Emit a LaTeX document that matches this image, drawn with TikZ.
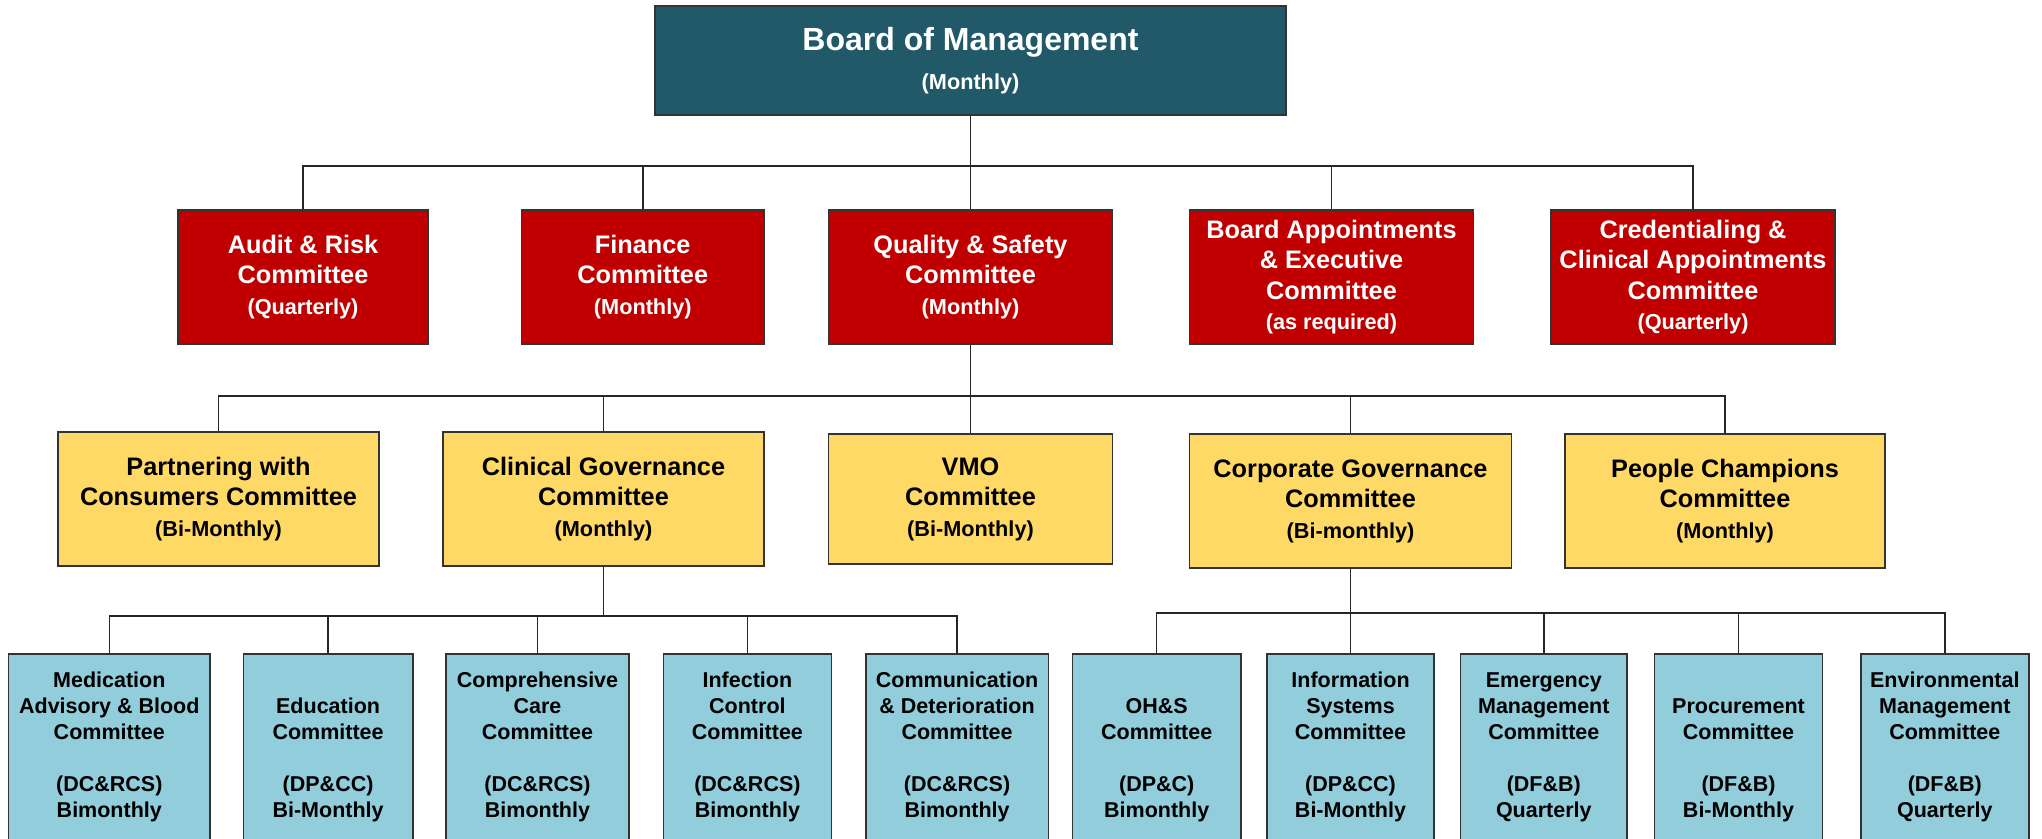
\documentclass[tikz,border=0pt]{standalone}
\usepackage{fontspec}
\setmainfont{Liberation Sans}
\definecolor{boardteal}{HTML}{215968}
\definecolor{cmred}{HTML}{C00000}
\definecolor{cmyellow}{HTML}{FFD966}
\definecolor{cmblue}{HTML}{92CDDC}
\newcommand\freqtxt[1]{{\fontsize{21.7}{30.5}\selectfont #1}}
\tikzset{
  conn/.style={draw=black!85, line width=1.5pt},
  orgbox/.style={draw=black!80, line width=1.5pt, rectangle, inner sep=0pt, align=center},
  boardbox/.style={orgbox, fill=boardteal, text=white, font=\bfseries\fontsize{32}{39}\selectfont},
  redbox/.style={orgbox, fill=cmred, text=white, minimum height=134pt, font=\bfseries\fontsize{25.3}{30.5}\selectfont},
  yellowbox/.style={orgbox, fill=cmyellow, text=black, font=\bfseries\fontsize{25.3}{30.5}\selectfont},
  bluebox/.style={orgbox, fill=cmblue, minimum height=246pt},
  bluetxt/.style={inner sep=0pt, align=center, text=black, font=\bfseries\fontsize{21.5}{26}\selectfont, anchor=south}
}
\begin{document}
\begin{tikzpicture}[x=1pt,y=-1pt]
\useasboundingbox (0,0) rectangle (2042,838);
\clip (0,0) rectangle (2042,838);

% Board
\node[boardbox, minimum width=631pt, minimum height=109pt] (board) at (970.5,60.5) {Board of Management\\\freqtxt{(Monthly)}};

% Level 1
\node[redbox, minimum width=250pt] (audit) at (303,277) {Audit \& Risk\\Committee\\\freqtxt{(Quarterly)}};
\node[redbox, minimum width=242.5pt] (finance) at (642.75,277) {Finance\\Committee\\\freqtxt{(Monthly)}};
\node[redbox, minimum width=284pt] (quality) at (970.5,277) {Quality \& Safety\\Committee\\\freqtxt{(Monthly)}};
\node[redbox, minimum width=284pt] (boardapp) at (1331.5,277) {Board Appointments\\\& Executive\\Committee\\\freqtxt{(as required)}};
\node[redbox, minimum width=284pt] (cred) at (1693,277) {Credentialing \&\\Clinical Appointments\\Committee\\\freqtxt{(Quarterly)}};

% Level 2
\node[yellowbox, minimum width=321pt, minimum height=134pt] (partner) at (218.5,499) {Partnering with\\Consumers Committee\\\freqtxt{(Bi-Monthly)}};
\node[yellowbox, minimum width=321pt, minimum height=134pt] (clinical) at (603.5,499) {Clinical Governance\\Committee\\\freqtxt{(Monthly)}};
\node[yellowbox, minimum width=284pt, minimum height=130pt] (vmo) at (970.5,499) {VMO\\Committee\\\freqtxt{(Bi-Monthly)}};
\node[yellowbox, minimum width=322pt, minimum height=134pt] (corporate) at (1350.5,501) {Corporate Governance\\Committee\\\freqtxt{(Bi-monthly)}};
\node[yellowbox, minimum width=320pt, minimum height=134pt] (people) at (1725,501) {People Champions\\Committee\\\freqtxt{(Monthly)}};

% Level 3 boxes
\node[bluebox, minimum width=201.5pt] (med) at (109.3,777) {};
\node[bluebox, minimum width=169.3pt] (edu) at (328.1,777) {};
\node[bluebox, minimum width=183pt] (comp) at (537.5,777) {};
\node[bluebox, minimum width=168pt] (inf) at (747.4,777) {};
\node[bluebox, minimum width=182.3pt] (comm) at (957.1,777) {};
\node[bluebox, minimum width=168.6pt] (ohs) at (1156.7,777) {};
\node[bluebox, minimum width=167.4pt] (info) at (1350.5,777) {};
\node[bluebox, minimum width=166.5pt] (emer) at (1543.8,777) {};
\node[bluebox, minimum width=168pt] (proc) at (1738.5,777) {};
\node[bluebox, minimum width=168pt] (env) at (1944.8,777) {};

\coordinate (tb) at (0,822.5);
\node[bluetxt] (medT) at (med |- tb) {Medication\\Advisory \& Blood\\Committee\\ \\(DC\&RCS)\\Bimonthly};
\node[bluetxt] (eduT) at (edu |- tb) {Education\\Committee\\ \\(DP\&CC)\\Bi-Monthly};
\node[bluetxt] (compT) at (comp |- tb) {Comprehensive\\Care\\Committee\\ \\(DC\&RCS)\\Bimonthly};
\node[bluetxt] (infT) at (inf |- tb) {Infection\\Control\\Committee\\ \\(DC\&RCS)\\Bimonthly};
\node[bluetxt] (commT) at (comm |- tb) {Communication\\\& Deterioration\\Committee\\ \\(DC\&RCS)\\Bimonthly};
\node[bluetxt] (ohsT) at (ohs |- tb) {OH\&S\\Committee\\ \\(DP\&C)\\Bimonthly};
\node[bluetxt] (infoT) at (info |- tb) {Information\\Systems\\Committee\\ \\(DP\&CC)\\Bi-Monthly};
\node[bluetxt] (emerT) at (emer |- tb) {Emergency\\Management\\Committee\\ \\(DF\&B)\\Quarterly};
\node[bluetxt] (procT) at (proc |- tb) {Procurement\\Committee\\ \\(DF\&B)\\Bi-Monthly};
\node[bluetxt] (envT) at (env |- tb) {Environmental\\Management\\Committee\\ \\(DF\&B)\\Quarterly};

% Connectors
\coordinate (busA) at (0,166);
\coordinate (busB) at (0,396);
\coordinate (busC) at (0,616);
\coordinate (busD) at (0,613);
\foreach \c in {audit,finance,quality,boardapp,cred}
  \draw[conn] (board.south) |- (\c.north |- busA) -- (\c.north);
\foreach \c in {partner,clinical,vmo,corporate,people}
  \draw[conn] (quality.south) |- (\c.north |- busB) -- (\c.north);
\foreach \c in {med,edu,comp,inf,comm}
  \draw[conn] (clinical.south) |- (\c.north |- busC) -- (\c.north);
\foreach \c in {ohs,info,emer,proc,env}
  \draw[conn] (corporate.south) |- (\c.north |- busD) -- (\c.north);
\end{tikzpicture}
\end{document}
